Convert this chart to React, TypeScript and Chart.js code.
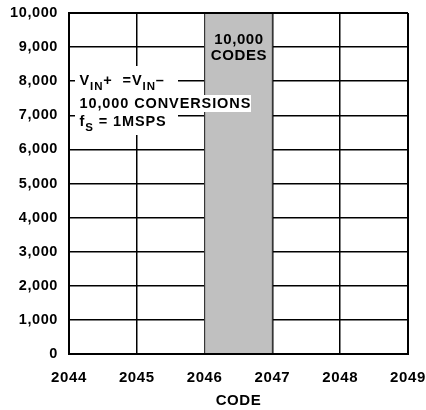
import { useEffect, useRef } from "react"
import { Chart, registerables } from "chart.js"

Chart.register(...registerables)

// histogram: one bin per output code, bin spans [code, code + 1)
const codes = [2044, 2045, 2046, 2047, 2048]
const counts = [0, 0, 10000, 0, 0]

const xTicks = [2044, 2045, 2046, 2047, 2048, 2049]
const yTicks = [0, 1000, 2000, 3000, 4000, 5000, 6000, 7000, 8000, 9000, 10000]

const xTitle = "CODE"
const peakUnit = "CODES"

// condition note, runs with a sub flag are drawn as subscripts
const noteLines = [
  [{ t: "V" }, { t: "IN", sub: true }, { t: "+  =" }, { t: "V" }, { t: "IN", sub: true }, { t: "–" }],
  [{ t: "10,000 CONVERSIONS" }],
  [{ t: "f" }, { t: "S", sub: true }, { t: " = 1MSPS" }],
]

const FONT = '"Liberation Sans", Arial, Helvetica, sans-serif'

const notesPlugin = {
  id: "notes",
  beforeUpdate(chart: any) {
    chart.ctx.letterSpacing = "0.6px"
  },
  beforeDraw(chart: any) {
    chart.ctx.letterSpacing = "0.6px"
  },
  afterDatasetsDraw(chart: any) {
    const { ctx, chartArea } = chart
    const { left, top, right } = chartArea
    ctx.save()

    // top edge of the frame sits over the bar
    ctx.strokeStyle = "#000"
    ctx.lineWidth = 2
    ctx.beginPath()
    ctx.moveTo(left, top)
    ctx.lineTo(right, top)
    ctx.stroke()

    // label inside the tall bin
    const peak = counts.indexOf(Math.max(...counts))
    const bar = chart.getDatasetMeta(0).data[peak]
    ctx.fillStyle = "#000"
    ctx.font = `bold 15px ${FONT}`
    ctx.letterSpacing = "0.6px"
    ctx.textAlign = "center"
    ctx.textBaseline = "alphabetic"
    ctx.fillText(counts[peak].toLocaleString("en-US"), bar.x + 0.5, top + 30.5)
    ctx.fillText(peakUnit, bar.x + 0.5, top + 46.5)

    // white box behind the note
    ctx.fillStyle = "#fff"
    ctx.fillRect(left + 6, top + 53, 103, 69)
    ctx.fillRect(left + 6, top + 82, 176, 17)

    ctx.fillStyle = "#000"
    ctx.textAlign = "left"
    ctx.letterSpacing = "0.9px"
    const baselines = [top + 72, top + 95, top + 113]
    noteLines.forEach((runs, i) => {
      let x = left + 10.5
      runs.forEach((r: any) => {
        ctx.font = r.sub ? `bold 11.5px ${FONT}` : `bold 14.5px ${FONT}`
        ctx.fillText(r.t, x, baselines[i] + (r.sub ? 5 : 0))
        x += ctx.measureText(r.t).width
      })
    })

    ctx.restore()
  },
}

export default function App() {
  const chartRef = useRef<HTMLCanvasElement | null>(null)

  useEffect(() => {
    document.body.style.margin = "0"
    if (!chartRef.current) return
    const ctx = chartRef.current.getContext("2d")
    if (!ctx) return

    const chart = new Chart(ctx, {
      type: "bar",
      data: {
        datasets: [{
          data: codes.map((c, i) => ({ x: c + 0.5, y: counts[i] })),
          backgroundColor: "#c0c0c0",
          borderColor: "#666",
          borderWidth: 1,
          borderSkipped: "bottom",
          barPercentage: 1,
          categoryPercentage: 1,
        }],
      },
      options: {
        animation: false,
        responsive: true,
        maintainAspectRatio: false,
        layout: { padding: { left: 0, right: 18, top: 13, bottom: 0 } },
        plugins: {
          legend: { display: false },
          tooltip: { enabled: false },
        },
        scales: {
          x: {
            type: "linear",
            min: xTicks[0],
            max: xTicks[xTicks.length - 1],
            offset: false,
            afterBuildTicks: (scale: any) => {
              scale.ticks = xTicks.map(v => ({ value: v }))
            },
            afterFit: (scale: any) => {
              scale.height = 56
              scale.paddingLeft = 0
              scale.paddingRight = 0
            },
            grid: {
              offset: false,
              drawTicks: false,
              color: "#000",
              lineWidth: (c: any) => (c.tick && (c.tick.value === xTicks[0] || c.tick.value === xTicks[xTicks.length - 1]) ? 2 : 1.5),
            },
            border: { display: true, color: "#000", width: 2 },
            ticks: {
              autoSkip: false,
              maxRotation: 0,
              padding: 15,
              color: "#000",
              font: { family: FONT, size: 15, weight: "bold" },
              callback: (v: any) => String(v),
            },
            title: {
              display: true,
              text: xTitle,
              color: "#000",
              padding: { top: 0, bottom: 0 },
              font: { family: FONT, size: 15, weight: "bold" },
            },
          },
          y: {
            min: yTicks[0],
            max: yTicks[yTicks.length - 1],
            afterBuildTicks: (scale: any) => {
              scale.ticks = yTicks.map(v => ({ value: v }))
            },
            afterFit: (scale: any) => {
              scale.width = 69
              scale.paddingTop = 0
              scale.paddingBottom = 0
            },
            grid: {
              drawTicks: false,
              color: "#000",
              lineWidth: (c: any) => (c.tick && (c.tick.value === yTicks[0] || c.tick.value === yTicks[yTicks.length - 1]) ? 2 : 1.5),
            },
            border: { display: true, color: "#000", width: 2 },
            ticks: {
              padding: 11,
              color: "#000",
              font: { family: FONT, size: 14.5, weight: "bold" },
              callback: (v: any) => Number(v).toLocaleString("en-US"),
            },
          },
        },
      },
      plugins: [notesPlugin],
    })

    return () => {
      chart.destroy()
    }
  }, [])

  return (
    <div style={{ position: "relative", width: 426, height: 410 }}>
      <canvas ref={chartRef} />
    </div>
  )
}
